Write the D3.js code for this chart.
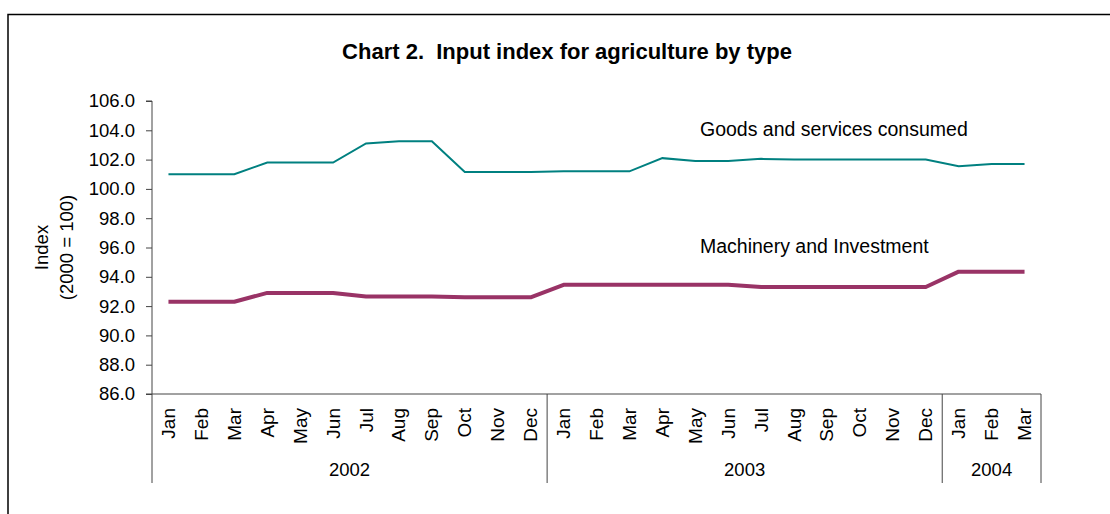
<!DOCTYPE html>
<html>
<head>
<meta charset="utf-8">
<script src="https://cdn.jsdelivr.net/npm/d3@7"></script>
<style>
  body { margin: 0; background: #fff; }
  svg { display: block; font-family: "Liberation Sans", Arial, sans-serif; }
</style>
</head>
<body>
<svg id="chart" width="1110" height="514"></svg>
<script>
// monthly categories, Jan 2002 - Mar 2004
const monthNames = ["Jan", "Feb", "Mar", "Apr", "May", "Jun", "Jul", "Aug", "Sep", "Oct", "Nov", "Dec"];
const years = ["2002", "2003", "2004"];
const monthsPerYear = [12, 12, 3];

const goods = [
  101.0, 101.0, 101.0, 101.8, 101.8, 101.8, 103.1, 103.25, 103.25, 101.15, 101.15, 101.15,
  101.2, 101.2, 101.2, 102.1, 101.9, 101.9, 102.05, 102.0, 102.0, 102.0, 102.0, 102.0,
  101.55, 101.7, 101.7
];
const machinery = [
  92.3, 92.3, 92.3, 92.9, 92.9, 92.9, 92.65, 92.65, 92.65, 92.6, 92.6, 92.6,
  93.45, 93.45, 93.45, 93.45, 93.45, 93.45, 93.3, 93.3, 93.3, 93.3, 93.3, 93.3,
  94.35, 94.35, 94.35
];
const yTicks = [86, 88, 90, 92, 94, 96, 98, 100, 102, 104, 106];

// build category list
const categories = [];
years.forEach((yr, yi) => {
  for (let m = 0; m < monthsPerYear[yi]; m++) {
    categories.push({ key: yr + "-" + m, month: monthNames[m], year: yr });
  }
});

const svg = d3.select("#chart");
const plotLeft = 152, plotRight = 1041, plotTop = 101, plotBottom = 394;

// outer frame (runs off the picture at right and bottom)
svg.append("rect")
  .attr("x", 8).attr("y", 14.5)
  .attr("width", 1300).attr("height", 700)
  .attr("fill", "none").attr("stroke", "#000").attr("stroke-width", 1.5);

svg.append("text")
  .attr("x", 567).attr("y", 59)
  .attr("text-anchor", "middle")
  .attr("font-size", 22).attr("font-weight", "bold")
  .style("white-space", "pre")
  .text("Chart 2.  Input index for agriculture by type");

const x = d3.scalePoint()
  .domain(categories.map(d => d.key))
  .range([plotLeft, plotRight])
  .padding(0.5);

const y = d3.scaleLinear().domain([86, 106]).range([plotBottom, plotTop]);

// y axis
const yAxis = svg.append("g")
  .attr("transform", `translate(${plotLeft},0)`)
  .call(d3.axisLeft(y).tickValues(yTicks).tickFormat(d3.format(".1f")).tickSize(6).tickPadding(11));
yAxis.select(".domain").attr("stroke", "#444").attr("d", `M-6,${plotTop}H0V${plotBottom}`);
yAxis.selectAll(".tick line").attr("stroke", "#444");
yAxis.selectAll(".tick text")
  .attr("font-size", 18.5).attr("fill", "#000")
  .attr("font-family", "Liberation Sans, Arial, sans-serif");

// y title
const yTitle = svg.append("text")
  .attr("transform", `translate(48,${(plotTop + plotBottom) / 2}) rotate(-90)`)
  .attr("text-anchor", "middle")
  .attr("font-size", 18.5);
yTitle.append("tspan").attr("x", 0).attr("y", 0).text("Index");
yTitle.append("tspan").attr("x", 0).attr("y", 25).text("(2000 = 100)");

// x axis line and group separators
const step = x.step();
svg.append("line")
  .attr("x1", plotLeft - 6).attr("x2", plotRight)
  .attr("y1", plotBottom).attr("y2", plotBottom)
  .attr("stroke", "#444");

let idx = 0;
const bounds = [plotLeft];
years.forEach((yr, yi) => {
  const first = categories[idx].key;
  const last = categories[idx + monthsPerYear[yi] - 1].key;
  const x0 = x(first) - step / 2, x1 = x(last) + step / 2;
  bounds.push(x1);
  svg.append("text")
    .attr("x", (x0 + x1) / 2).attr("y", 476)
    .attr("text-anchor", "middle")
    .attr("font-size", 18.5)
    .text(yr);
  idx += monthsPerYear[yi];
});
svg.selectAll("line.sep")
  .data(bounds)
  .join("line")
  .attr("class", "sep")
  .attr("x1", d => d).attr("x2", d => d)
  .attr("y1", plotBottom).attr("y2", 483)
  .attr("stroke", "#444");

// month labels
svg.selectAll("text.month")
  .data(categories)
  .join("text")
  .attr("class", "month")
  .attr("transform", d => `translate(${x(d.key) + 6.5},${plotBottom + 14}) rotate(-90)`)
  .attr("text-anchor", "end")
  .attr("font-size", 19)
  .text(d => d.month);

// lines
const line = d3.line()
  .x((d, i) => x(categories[i].key))
  .y(d => y(d));

svg.append("path")
  .datum(goods)
  .attr("d", line)
  .attr("fill", "none")
  .attr("stroke", "#008080")
  .attr("stroke-width", 2);

svg.append("path")
  .datum(machinery)
  .attr("d", line)
  .attr("fill", "none")
  .attr("stroke", "#993366")
  .attr("stroke-width", 4)
  .attr("stroke-linejoin", "round");

// series labels
svg.append("text")
  .attr("x", 700).attr("y", 136)
  .attr("font-size", 19.5)
  .text("Goods and services consumed");
svg.append("text")
  .attr("x", 700).attr("y", 253)
  .attr("font-size", 19.5)
  .text("Machinery and Investment");
</script>
</body>
</html>
